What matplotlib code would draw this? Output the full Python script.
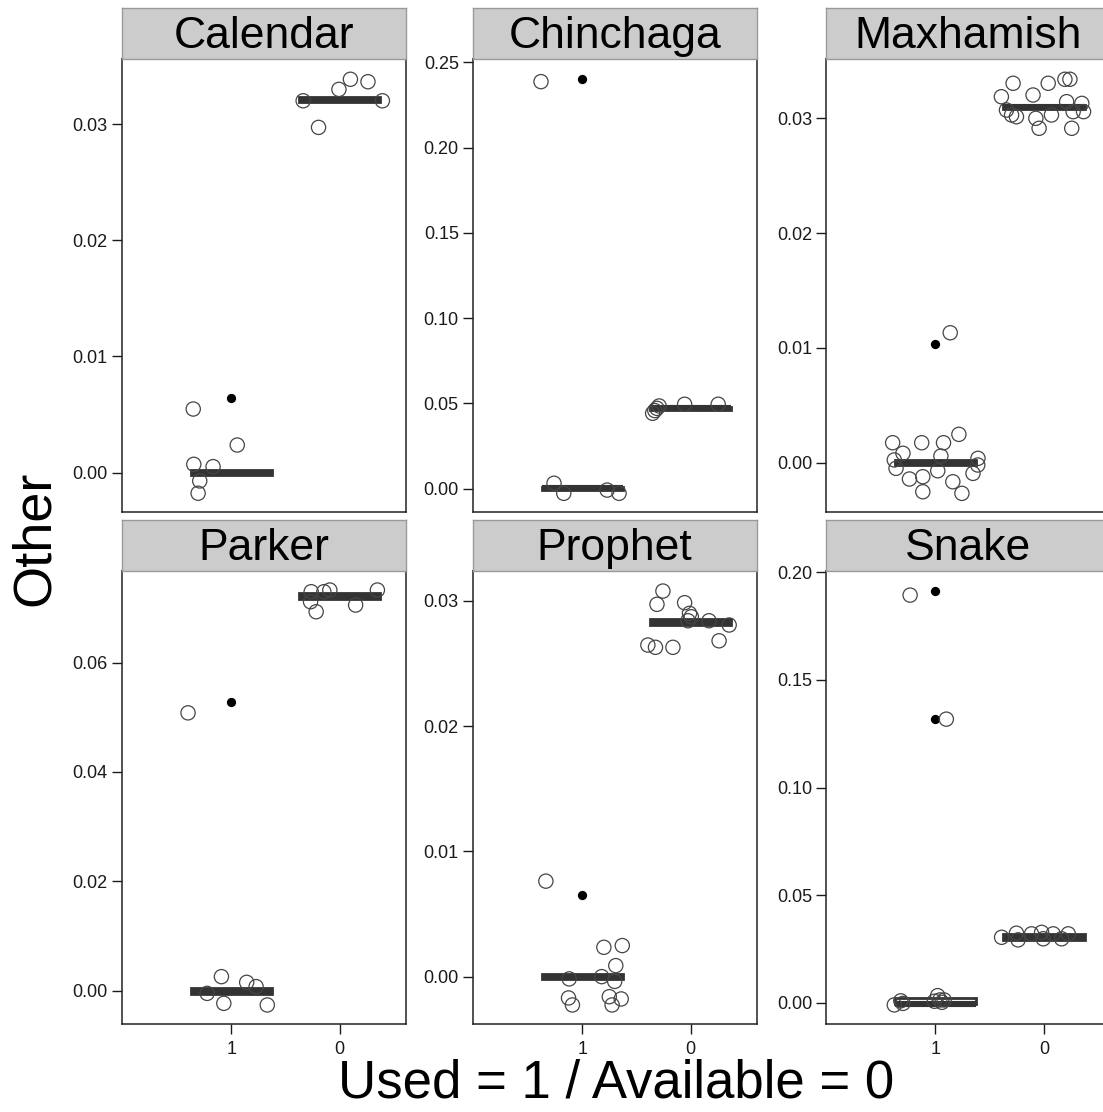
import matplotlib.pyplot as plt
from matplotlib.patches import Rectangle
from matplotlib.ticker import MultipleLocator, FormatStrFormatter

plt.rcParams['font.family'] = ['Liberation Sans', 'DejaVu Sans']

# facets and x categories (Used = 1 / Available = 0)
panels = ['Calendar', 'Chinchaga', 'Maxhamish', 'Parker', 'Prophet', 'Snake']
groups = ['1', '0']

# jittered points: horizontal offset from the category, value
calendar_used_dx = [-0.35, -0.345, -0.167, 0.056, -0.29, -0.305]
calendar_used_y = [0.00548, 0.00072, 0.00052, 0.00238, -0.00071, -0.00177]
calendar_avail_dx = [-0.336, -0.006, 0.10, 0.262, 0.395, -0.194]
calendar_avail_y = [0.03201, 0.03299, 0.03386, 0.03365, 0.03201, 0.02972]

chinchaga_used_dx = [-0.38, -0.26, -0.17, 0.23, 0.34]
chinchaga_used_y = [0.2386, 0.0032, -0.0027, -0.0008, -0.0027]
chinchaga_avail_dx = [-0.35, -0.33, -0.31, -0.29, -0.055, 0.255]
chinchaga_avail_y = [0.0442, 0.0458, 0.0471, 0.0485, 0.0495, 0.0495]

maxhamish_used_dx = [0.136, -0.395, -0.127, 0.074, 0.216, -0.30, 0.05, -0.38, 0.392,
                     -0.364, 0.021, -0.117, -0.24, 0.16, 0.346, 0.39, -0.117, 0.244]
maxhamish_used_y = [0.01132, 0.00174, 0.00174, 0.00174, 0.00247, 0.00082, 0.00058, 0.00024, 0.00038,
                    -0.00049, -0.0007, -0.00122, -0.00142, -0.00166, -0.00093, -0.0002, -0.00253, -0.00267]
maxhamish_avail_dx = [-0.284, -0.392, -0.10, 0.04, 0.194, 0.24, 0.21, 0.35, -0.345,
                      -0.253, -0.074, 0.07, 0.366, 0.27, -0.044, 0.257, -0.298]
maxhamish_avail_y = [0.03305, 0.03188, 0.03203, 0.03305, 0.0334, 0.0334, 0.03145, 0.0313, 0.03072,
                     0.03014, 0.03, 0.03029, 0.03058, 0.03058, 0.02913, 0.02913, 0.03029]

parker_used_dx = [-0.398, -0.09, 0.143, 0.23, -0.222, -0.068, 0.333]
parker_used_y = [0.0508, 0.00256, 0.00152, 0.00073, -0.0005, -0.00232, -0.00262]
parker_avail_dx = [-0.262, -0.268, -0.216, -0.145, -0.09, 0.148, 0.349]
parker_avail_y = [0.07295, 0.07112, 0.06929, 0.07295, 0.07326, 0.07051, 0.07326]

prophet_used_dx = [-0.335, 0.2, 0.37, 0.31, -0.12, 0.18, 0.30, -0.126, -0.09, 0.25, 0.36, 0.276]
prophet_used_y = [0.00762, 0.00234, 0.00248, 0.00088, -0.00018, 0.0, -0.00038, -0.0017, -0.00226,
                  -0.0016, -0.00178, -0.00226]
prophet_avail_dx = [-0.255, -0.31, -0.055, -0.01, 0.007, -0.024, 0.17, 0.356, 0.263, -0.394, -0.324, -0.163]
prophet_avail_y = [0.03077, 0.02971, 0.02984, 0.02899, 0.02872, 0.0284, 0.0284, 0.02806, 0.0268,
                   0.02646, 0.02628, 0.02628]

snake_used_dx = [-0.234, 0.1, -0.38, -0.30, -0.32, 0.02, 0.04, 0.06, -0.01, 0.08]
snake_used_y = [0.1894, 0.1318, -0.0009, -0.0002, 0.001, 0.0034, 0.0014, 0.0003, 0.0008, 0.0014]
snake_avail_dx = [-0.39, -0.253, -0.238, -0.114, -0.021, -0.006, 0.086, 0.164, 0.225]
snake_avail_y = [0.0305, 0.0324, 0.0293, 0.0321, 0.0328, 0.0298, 0.0321, 0.0298, 0.0321]

# boxplot summaries (q1, median, q3) and outliers
box_used = [(-0.0002, 0.0, 0.0002), (-0.0010, 0.0002, 0.0010), (-0.0002, 0.0, 0.0002),
            (-0.0006, -0.0001, 0.0004), (-0.0002, 0.0, 0.0002), (-0.0004, -0.0004, 0.0022)]
box_avail = [(0.0319, 0.0321, 0.0323), (0.0461, 0.0471, 0.0481), (0.0308, 0.0310, 0.0312),
             (0.0717, 0.0722, 0.0727), (0.0281, 0.0283, 0.0285), (0.0293, 0.0305, 0.0318)]
outliers_used = [[0.0064], [0.2400], [0.0103], [0.0527], [0.00655], [0.1914, 0.1321]]

used_dx = [calendar_used_dx, chinchaga_used_dx, maxhamish_used_dx, parker_used_dx, prophet_used_dx, snake_used_dx]
used_y = [calendar_used_y, chinchaga_used_y, maxhamish_used_y, parker_used_y, prophet_used_y, snake_used_y]
avail_dx = [calendar_avail_dx, chinchaga_avail_dx, maxhamish_avail_dx, parker_avail_dx, prophet_avail_dx, snake_avail_dx]
avail_y = [calendar_avail_y, chinchaga_avail_y, maxhamish_avail_y, parker_avail_y, prophet_avail_y, snake_avail_y]

# free y scales
ylims = [(-0.00341, 0.03558), (-0.01383, 0.2517), (-0.00432, 0.03514),
         (-0.0061, 0.07674), (-0.00378, 0.03237), (-0.00977, 0.2006)]
ysteps = [0.01, 0.05, 0.01, 0.02, 0.01, 0.05]

W, H = 1103, 1112
fig = plt.figure(figsize=(W / 100, H / 100), dpi=100)

col_left = [121.7, 472.7, 826.0]
row_top = [59.3, 571.0]
pw, ph = 284.0, 453.0
strip_h = 51.0

for i, name in enumerate(panels):
    r, c = divmod(i, 3)
    x0, y0 = col_left[c], row_top[r]
    ax = fig.add_axes([x0 / W, 1 - (y0 + ph) / H, pw / W, ph / H])

    # boxes
    for pos, (q1, med, q3) in zip([1, 2], [box_used[i], box_avail[i]]):
        ax.add_patch(Rectangle((pos - 0.375, q1), 0.75, q3 - q1, facecolor='white',
                               edgecolor='#333333', lw=2.0, zorder=2))
        ax.plot([pos - 0.375, pos + 0.375], [med, med], color='#333333', lw=4.4,
                solid_capstyle='butt', zorder=3)
    ax.scatter([1] * len(outliers_used[i]), outliers_used[i], s=32, color='black', zorder=4)

    # jittered points
    ax.scatter([1 + d for d in used_dx[i]], used_y[i], s=105, facecolors='none',
               edgecolors='#454545', linewidths=0.9, zorder=5)
    ax.scatter([2 + d for d in avail_dx[i]], avail_y[i], s=105, facecolors='none',
               edgecolors='#454545', linewidths=0.9, zorder=5)

    ax.set_xlim(-0.01, 2.61)
    ax.set_ylim(*ylims[i])
    ax.yaxis.set_major_locator(MultipleLocator(ysteps[i]))
    ax.yaxis.set_major_formatter(FormatStrFormatter('%.2f'))
    ax.tick_params(axis='y', length=7, width=1, pad=3, labelsize=13, colors='#1a1a1a')
    ax.set_xticks([1, 2])
    if r == 1:
        ax.set_xticklabels(groups)
        ax.tick_params(axis='x', length=7, width=1, pad=5, labelsize=13, colors='#1a1a1a')
    else:
        ax.tick_params(axis='x', length=0, labelbottom=False)
    for sp in ax.spines.values():
        sp.set_color('#222222')
        sp.set_linewidth(1.1)

    # strip
    sax = fig.add_axes([x0 / W, 1 - y0 / H, pw / W, strip_h / H])
    sax.set_facecolor('#cccccc')
    sax.set_xticks([])
    sax.set_yticks([])
    for sp in sax.spines.values():
        sp.set_color('#999999')
        sp.set_linewidth(1.0)
    sax.text(0.5, 0.45, name, ha='center', va='center', fontsize=32, color='black',
             transform=sax.transAxes)

fig.text(35 / W, 1 - 538 / H, 'Other', rotation=90, ha='center', va='center', fontsize=39)
fig.text(616 / W, 1 - 1084 / H, 'Used = 1 / Available = 0', ha='center', va='center', fontsize=38)

fig.savefig('out.png', dpi=100)
